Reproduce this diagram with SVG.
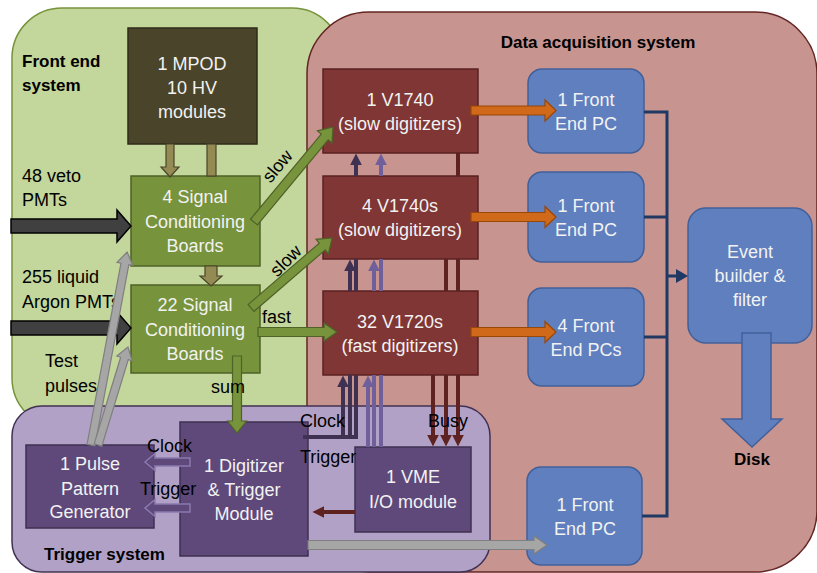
<svg xmlns="http://www.w3.org/2000/svg" width="817" height="573" viewBox="0 0 817 573">
<defs>
<style>
text{font-family:"Liberation Sans",Arial,sans-serif;font-size:18px;fill:#000}
.w{fill:#f2f2f2;text-anchor:middle}
.b{font-weight:bold;font-size:17px}
.mpod{fill:#4a452a;stroke:#2e2b1a;stroke-width:1.5}
.scb{fill:#77933c;stroke:#4f6228;stroke-width:1.5}
.dig{fill:#7f3634;stroke:#5a2120;stroke-width:1.5}
.pc{fill:#5f7fbe;stroke:#41609a;stroke-width:1.5}
.trg{fill:#5f497a;stroke:#3f3151;stroke-width:1.5}
.garrow{fill:#77933c;stroke:#4f6228;stroke-width:1.2}
.oarrow{fill:#948a54;stroke:#4a452a;stroke-width:1.2}
.karrow{fill:#404040;stroke:#000;stroke-width:1.5}
.grarrow{fill:#a6a6a6;stroke:#7f7f7f;stroke-width:1.2}
.orarrow{fill:#d1691a;stroke:#984807;stroke-width:1.2}
.parrow{fill:#5f497a;stroke:#8b7ab0;stroke-width:1.5}
.dk{fill:none;stroke:#3f3151;stroke-width:4}
.lt{fill:none;stroke:#6f5f9b;stroke-width:4}
.mr{fill:none;stroke:#5e2320;stroke-width:4}
.nv{fill:none;stroke:#1f3864;stroke-width:3}
</style>
<marker id="mDk" viewBox="0 0 10 10" refX="2" refY="5" markerWidth="12" markerHeight="12" markerUnits="userSpaceOnUse" orient="auto"><path d="M0,0 L10,5 L0,10 z" fill="#3f3151"/></marker>
<marker id="mLt" viewBox="0 0 10 10" refX="2" refY="5" markerWidth="12" markerHeight="12" markerUnits="userSpaceOnUse" orient="auto"><path d="M0,0 L10,5 L0,10 z" fill="#6f5f9b"/></marker>
<marker id="mMr" viewBox="0 0 10 10" refX="2" refY="5" markerWidth="12" markerHeight="12" markerUnits="userSpaceOnUse" orient="auto"><path d="M0,0 L10,5 L0,10 z" fill="#5e2320"/></marker>
</defs>

<g id="regions">
<rect id="front-end-region" x="12" y="8" width="330" height="420" rx="50" fill="#c3d69b" stroke="#77933c" stroke-width="1.5"/>
<rect id="daq-region" x="307" y="12" width="510" height="560" rx="62" fill="#c8948f" stroke="#632523" stroke-width="1.5"/>
<rect id="trigger-region" x="12" y="406" width="478" height="166" rx="30" fill="#b2a1c7" stroke="#403152" stroke-width="1.5"/>
<text class="b" x="22" y="67">Front end</text>
<text class="b" x="22" y="91">system</text>
<text class="b" x="598" y="48" text-anchor="middle">Data acquisition system</text>
<text class="b" x="44" y="560">Trigger system</text>
</g>

<g id="mpod"><rect class="mpod" x="128" y="28" width="129" height="116"/>
<text class="w" x="192" y="70">1 MPOD</text><text class="w" x="192" y="94">10 HV</text><text class="w" x="192" y="118">modules</text></g>

<g id="scb4"><rect class="scb" x="131" y="176" width="129" height="90"/>
<text class="w" x="195" y="203">4 Signal</text><text class="w" x="195" y="228">Conditioning</text><text class="w" x="195" y="252">Boards</text></g>

<g id="scb22"><rect class="scb" x="131" y="285" width="129" height="88"/>
<text class="w" x="195" y="311">22 Signal</text><text class="w" x="195" y="336">Conditioning</text><text class="w" x="195" y="360">Boards</text></g>

<g id="v1740"><rect class="dig" x="323" y="69" width="155" height="84"/>
<text class="w" x="400" y="106">1 V1740</text><text class="w" x="400" y="130">(slow digitizers)</text></g>

<g id="v1740s"><rect class="dig" x="323" y="176" width="155" height="83"/>
<text class="w" x="400" y="212">4 V1740s</text><text class="w" x="400" y="236">(slow digitizers)</text></g>

<g id="v1720s"><rect class="dig" x="323" y="291" width="155" height="84"/>
<text class="w" x="400" y="328">32 V1720s</text><text class="w" x="400" y="352">(fast digitizers)</text></g>

<g id="pc1"><rect class="pc" x="528" y="69" width="116" height="84" rx="14"/>
<text class="w" x="586" y="106">1 Front</text><text class="w" x="586" y="130">End PC</text></g>

<g id="pc2"><rect class="pc" x="528" y="172" width="116" height="90" rx="14"/>
<text class="w" x="586" y="212">1 Front</text><text class="w" x="586" y="236">End PC</text></g>

<g id="pc3"><rect class="pc" x="528" y="288" width="116" height="98" rx="14"/>
<text class="w" x="586" y="332">4 Front</text><text class="w" x="586" y="356">End PCs</text></g>

<g id="pc4"><rect class="pc" x="527" y="467" width="115" height="98" rx="14"/>
<text class="w" x="585" y="511">1 Front</text><text class="w" x="585" y="535">End PC</text></g>

<g id="event-builder"><rect class="pc" x="688" y="208" width="124" height="135" rx="18"/>
<text class="w" x="750" y="258">Event</text><text class="w" x="750" y="282">builder &amp;</text><text class="w" x="750" y="306">filter</text></g>

<g id="disk"><polygon class="pc" points="742,333 771,333 771,419 782,419 752,447 722,419 742,419"/>
<text class="b" x="752" y="465" text-anchor="middle">Disk</text></g>

<g id="vme"><rect class="trg" x="355" y="447" width="116" height="85"/>
<text class="w" x="413" y="483">1 VME</text><text class="w" x="413" y="508">I/O module</text></g>

<g id="digitizer-trigger"><rect class="trg" x="180" y="422" width="128" height="134"/>
<text class="w" x="244" y="472">1 Digitizer</text><text class="w" x="244" y="496">&amp; Trigger</text><text class="w" x="244" y="520">Module</text></g>

<g id="pulse-generator"><rect class="trg" x="26" y="445" width="128" height="83"/>
<text class="w" x="90" y="470">1 Pulse</text><text class="w" x="90" y="495">Pattern</text><text class="w" x="90" y="518">Generator</text></g>

<g id="connectors">
<!-- inputs -->
<polygon class="karrow" points="11,219 117,219 117,210 131,226 117,242 117,233 11,233"/>
<polygon class="karrow" points="11,321 117,321 117,312 131,328 117,344 117,335 11,335"/>
<text x="22" y="182">48 veto</text><text x="22" y="206">PMTs</text>
<text x="22" y="283">255 liquid</text><text x="22" y="308">Argon PMTs</text>
<!-- HV -->
<polygon class="oarrow" points="166,144 174,144 174,167 179,167 170,177 161,167 166,167"/>
<rect class="oarrow" x="207" y="144" width="9" height="32"/>
<polygon class="oarrow" points="205,266 217,266 217,276 222,276 211,286 200,276 205,276"/>
<!-- test pulses -->
<polygon class="grarrow" points="0,-4 184.3,-4 184.3,-8 196.3,0 184.3,8 184.3,4 0,4" transform="translate(91,445) rotate(-79.4)"/>
<polygon class="grarrow" points="0,-4 90.5,-4 90.5,-8 102.5,0 90.5,8 90.5,4 0,4" transform="translate(98,445) rotate(-73)"/>
<text x="45" y="367">Test</text><text x="45" y="392">pulses</text>
<!-- slow / fast / sum -->
<polygon class="garrow" points="0,-4.5 110.6,-4.5 110.6,-9.5 123.6,0 110.6,9.5 110.6,4.5 0,4.5" transform="translate(254,222) rotate(-50.26)"/>
<text x="0" y="0" text-anchor="middle" transform="translate(282,170) rotate(-50)">slow</text>
<polygon class="garrow" points="0,-4.5 94.1,-4.5 94.1,-9.5 107.1,0 94.1,9.5 94.1,4.5 0,4.5" transform="translate(251,308) rotate(-40.8)"/>
<text x="0" y="0" text-anchor="middle" transform="translate(290,265) rotate(-45)">slow</text>
<polygon class="garrow" points="258,327.5 324,327.5 324,323 337,332 324,341 324,336.5 258,336.5"/>
<text x="262" y="323">fast</text>
<polygon class="garrow" points="232.5,356 241.5,356 241.5,421 246.5,421 237,433 227.5,421 232.5,421"/>
<text x="211" y="393">sum</text>
<!-- digitizers to PCs -->
<polygon class="orarrow" points="471,106 545,106 545,100 556,110.5 545,121 545,115 471,115"/>
<polygon class="orarrow" points="471,212.5 545,212.5 545,206.5 556,217 545,227.5 545,221.5 471,221.5"/>
<polygon class="orarrow" points="471,327.5 545,327.5 545,321.5 556,332 545,342.5 545,336.5 471,336.5"/>
<!-- PCs to event builder -->
<path class="nv" d="M644,112 H667 V516 H642 M644,217 H667 M644,337 H667 M667,276 H677"/>
<polygon points="676,269 688,276 676,283" fill="#1f3864"/>
<!-- clock -->
<path class="dk" d="M303,437 H358"/>
<path class="dk" d="M343,437 V385" marker-end="url(#mDk)"/>
<path class="dk" d="M350,437 V375 M350,291 V269" marker-end="url(#mDk)"/>
<path class="dk" d="M356,437 V375 M356,291 V259 M356,176 V163" marker-end="url(#mDk)"/>
<text x="300" y="427">Clock</text>
<!-- trigger -->
<path class="lt" d="M368,447 V385" marker-end="url(#mLt)"/>
<path class="lt" d="M374,447 V375 M374,291 V269" marker-end="url(#mLt)"/>
<path class="lt" d="M381,447 V375 M381,291 V259 M381,176 V163" marker-end="url(#mLt)"/>
<text x="300" y="463">Trigger</text>
<!-- busy -->
<path class="mr" d="M458,153 V176 M458,259 V291 M458,375 V437" marker-end="url(#mMr)"/>
<path class="mr" d="M446,259 V291 M446,375 V437" marker-end="url(#mMr)"/>
<path class="mr" d="M433,375 V437" marker-end="url(#mMr)"/>
<text x="428" y="427">Busy</text>
<!-- VME to digitizer -->
<path class="mr" d="M355,512 H322" marker-end="url(#mMr)"/>
<!-- digitizer to PPG -->
<polygon class="parrow" points="190,458 155,458 155,453.5 145,462 155,470.5 155,466 190,466"/>
<polygon class="parrow" points="190,504 155,504 155,499.5 145,508 155,516.5 155,512 190,512"/>
<text x="147" y="452">Clock</text>
<text x="140" y="495">Trigger</text>
<!-- digitizer to PC -->
<polygon class="grarrow" points="308,540.5 534,540.5 534,536 547,545 534,554 534,549.5 308,549.5"/>
</g>
</svg>
